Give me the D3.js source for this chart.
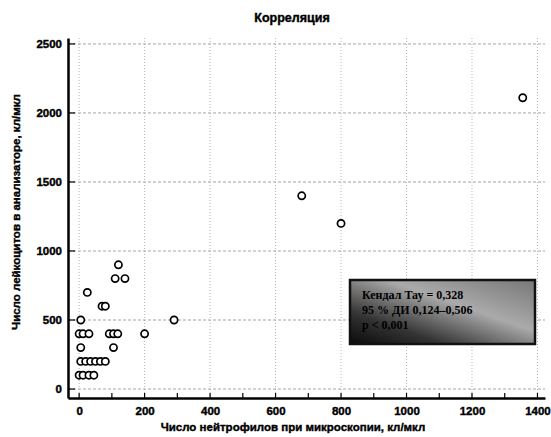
<!DOCTYPE html>
<html>
<head>
<meta charset="utf-8">
<script src="https://cdn.jsdelivr.net/npm/d3@7"></script>
<style>
  body { margin: 0; background: #fff; }
  text { font-family: "Liberation Sans", Arial, sans-serif; }
</style>
</head>
<body>
<script>
// Neutrophils by microscopy (x) vs leukocytes in analyzer (y)
const neutrophils = [120, 110, 140, 25, 70, 80, 5, 290,
    0, 12, 30, 92, 105, 118, 200, 5, 105,
    5, 20, 35, 50, 65, 80, 0, 12, 30, 45,
    680, 800, 1355];
const leukocytes = [900, 800, 800, 700, 600, 600, 500, 500,
    400, 400, 400, 400, 400, 400, 400, 300, 300,
    200, 200, 200, 200, 200, 200, 100, 100, 100, 100,
    1400, 1200, 2110];
const xTicks = [0, 200, 400, 600, 800, 1000, 1200, 1400];
const yTicks = [0, 500, 1000, 1500, 2000, 2500];
const statLines = ["Кендал Тау = 0,328", "95 % ДИ 0,124–0,506", "p < 0,001"];

const width = 551, height = 437;
const svg = d3.select("body").append("svg")
    .attr("width", width)
    .attr("height", height);

const x = d3.scaleLinear().domain([-34, 1423]).range([68, 545]);
const y = d3.scaleLinear().domain([-65, 2543]).range([398, 38]);

// grid lines
svg.append("g").selectAll("line")
    .data(xTicks)
    .join("line")
    .attr("x1", d => x(d)).attr("x2", d => x(d))
    .attr("y1", 38).attr("y2", 398)
    .attr("stroke", "#b5b5b5").attr("stroke-width", 1)
    .attr("stroke-dasharray", "1,2");

svg.append("g").selectAll("line")
    .data(yTicks)
    .join("line")
    .attr("x1", 68).attr("x2", 545)
    .attr("y1", d => y(d)).attr("y2", d => y(d))
    .attr("stroke", "#a5a5a5").attr("stroke-width", 1)
    .attr("stroke-dasharray", "3,2");

// axes
const xAxis = svg.append("g")
    .attr("transform", "translate(0,398)")
    .call(d3.axisBottom(x).tickValues(xTicks).tickFormat(d3.format("d")).tickSize(0).tickPadding(9));
xAxis.select(".domain").attr("stroke-width", 2.5);
xAxis.selectAll("text").attr("font-size", 11.5).attr("font-weight", "bold")
    .attr("stroke", "#000").attr("stroke-width", 0.4);

// minor/major tick marks pointing inside
svg.append("g").selectAll("line")
    .data(d3.range(0, 1401, 100))
    .join("line")
    .attr("x1", d => x(d)).attr("x2", d => x(d))
    .attr("y1", 398).attr("y2", 393)
    .attr("stroke", "#000").attr("stroke-width", 1.2);

const yAxis = svg.append("g")
    .attr("transform", "translate(68,0)")
    .call(d3.axisLeft(y).tickValues(yTicks).tickFormat(d3.format("d")).tickSize(0).tickPadding(6));
yAxis.select(".domain").attr("stroke-width", 2.5);
yAxis.selectAll("text").attr("font-size", 11.5).attr("font-weight", "bold")
    .attr("stroke", "#000").attr("stroke-width", 0.4);

svg.append("g").selectAll("line")
    .data(yTicks)
    .join("line")
    .attr("x1", 68).attr("x2", 75)
    .attr("y1", d => y(d)).attr("y2", d => y(d))
    .attr("stroke", "#000").attr("stroke-width", 1.2);

// points
svg.append("g").selectAll("circle")
    .data(neutrophils.map((v, i) => [v, leukocytes[i]]))
    .join("circle")
    .attr("cx", d => x(d[0]))
    .attr("cy", d => y(d[1]))
    .attr("r", 3.6)
    .attr("fill", "#fff")
    .attr("stroke", "#000")
    .attr("stroke-width", 1.7);

// stats box with gradient
const defs = svg.append("defs");
const grad = defs.append("linearGradient")
    .attr("id", "boxGrad")
    .attr("x1", "0%").attr("y1", "100%")
    .attr("x2", "100%").attr("y2", "0%");
grad.append("stop").attr("offset", "0%").attr("stop-color", "#0a0a0a");
grad.append("stop").attr("offset", "25%").attr("stop-color", "#333");
grad.append("stop").attr("offset", "60%").attr("stop-color", "#aaa");
grad.append("stop").attr("offset", "100%").attr("stop-color", "#777");

svg.append("rect")
    .attr("x", 350).attr("y", 280)
    .attr("width", 185).attr("height", 64)
    .attr("fill", "url(#boxGrad)")
    .attr("stroke", "#111").attr("stroke-width", 2.5);

svg.append("g").selectAll("text")
    .data(statLines)
    .join("text")
    .attr("x", 362)
    .attr("y", (d, i) => 299 + i * 15)
    .attr("font-size", 12)
    .attr("font-weight", "bold")
    .attr("fill", "#000")
    .style("font-family", "'Liberation Serif', 'Times New Roman', serif")
    .text(d => d);

// titles
svg.append("text")
    .attr("x", 292).attr("y", 22)
    .attr("text-anchor", "middle")
    .attr("font-size", 12.5).attr("font-weight", "bold")
    .attr("stroke", "#000").attr("stroke-width", 0.4)
    .text("Корреляция");

svg.append("text")
    .attr("x", 293).attr("y", 431)
    .attr("text-anchor", "middle")
    .attr("font-size", 11.5).attr("font-weight", "bold")
    .attr("stroke", "#000").attr("stroke-width", 0.4)
    .text("Число нейтрофилов при микроскопии, кл/мкл");

svg.append("text")
    .attr("transform", "translate(20,212) rotate(-90)")
    .attr("text-anchor", "middle")
    .attr("font-size", 11.5).attr("font-weight", "bold")
    .attr("stroke", "#000").attr("stroke-width", 0.4)
    .text("Число лейкоцитов в анализаторе, кл/мкл");
</script>
</body>
</html>
